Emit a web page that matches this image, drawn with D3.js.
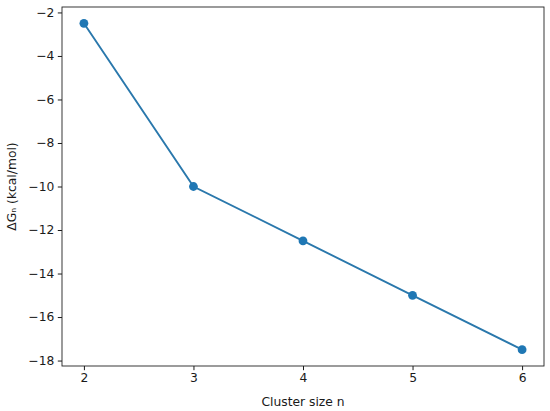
<!DOCTYPE html>
<html><head><meta charset="utf-8">
<script src="https://cdn.jsdelivr.net/npm/d3@7"></script>
<style>body{margin:0;background:#fff}svg{display:block}text{font-family:"DejaVu Sans",sans-serif}</style>
</head><body>
<script>
const sizes = [2, 3, 4, 5, 6];
const deltaG = [-2.5, -10, -12.5, -15, -17.5];
const xTicks = [2, 3, 4, 5, 6];
const yTicks = [-2, -4, -6, -8, -10, -12, -14, -16, -18];

const W = 550, H = 411;
const m = {left: 62, right: 6, top: 7, bottom: 45};
const svg = d3.select("body").append("svg").attr("width", W).attr("height", H);
const x = d3.scaleLinear().domain([1.8, 6.2]).range([m.left, W - m.right]);
const y = d3.scaleLinear().domain([-18.25, -1.75]).range([H - m.bottom, m.top]);

const fs = 12.3;
const gx = svg.append("g").attr("transform", `translate(0,${H - m.bottom})`)
  .call(d3.axisBottom(x).tickValues(xTicks).tickFormat(d3.format("d")).tickSize(4.2).tickPadding(3.5));
const gy = svg.append("g").attr("transform", `translate(${m.left},0)`)
  .call(d3.axisLeft(y).tickValues(yTicks).tickFormat(d => d3.format("d")(d).replace("-", "\u2212")).tickSize(4.2).tickPadding(3.5));
[gx, gy].forEach(g => {
  g.select(".domain").remove();
  g.selectAll("line").attr("stroke", "#000").attr("stroke-width", 0.9);
  g.selectAll("text").attr("font-size", fs).attr("fill", "#1a1a1a").attr("font-family", "DejaVu Sans");
});

svg.append("rect").attr("x", m.left).attr("y", m.top)
  .attr("width", W - m.right - m.left).attr("height", H - m.bottom - m.top)
  .attr("fill", "none").attr("stroke", "#222").attr("stroke-width", 0.9);

const pts = sizes.map((s, i) => [s, deltaG[i]]);
svg.append("path").datum(pts)
  .attr("d", d3.line().x(d => x(d[0])).y(d => y(d[1])))
  .attr("fill", "none").attr("stroke", "#2a78ac").attr("stroke-width", 1.9);
svg.selectAll("circle.pt").data(pts).enter().append("circle")
  .attr("cx", d => x(d[0])).attr("cy", d => y(d[1])).attr("r", 4.4).attr("fill", "#1f77b4");

svg.append("text").attr("x", (m.left + W - m.right) / 2).attr("y", 406)
  .attr("text-anchor", "middle").attr("font-size", fs).attr("fill", "#1a1a1a").text("Cluster size n");
svg.append("text").attr("transform", `translate(16,${(m.top + H - m.bottom) / 2}) rotate(-90)`)
  .attr("text-anchor", "middle").attr("font-size", fs).attr("fill", "#1a1a1a").text("\u0394G\u2099 (kcal/mol)");
</script>
</body></html>
